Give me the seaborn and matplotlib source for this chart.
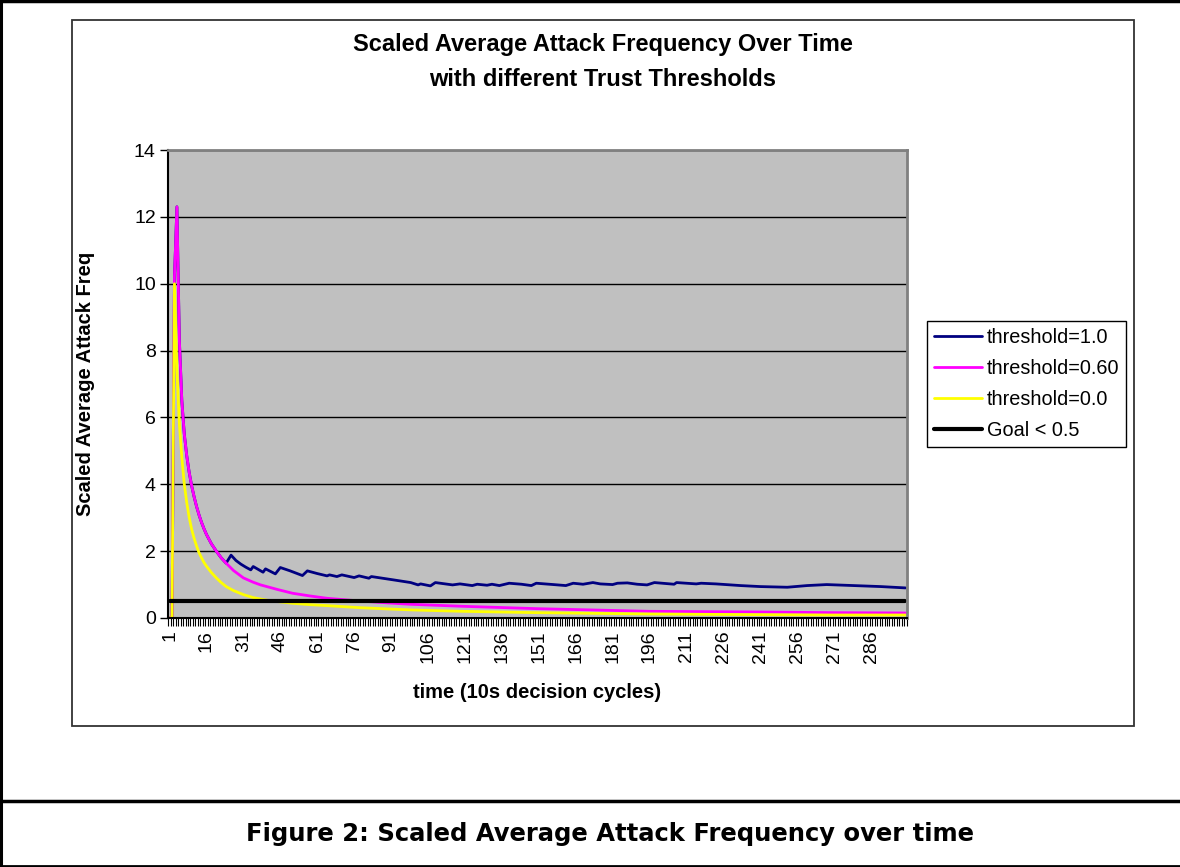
import pandas as pd
import seaborn as sns
import matplotlib.pyplot as plt
from matplotlib.lines import Line2D
from matplotlib.patches import Rectangle

# values (time index -> scaled avg attack freq)
t_thr10 = [1, 2, 3, 4, 5, 6, 7, 8, 9, 10, 11, 12, 13, 14, 15, 16, 18, 20, 22, 24,
           26, 28, 30, 32, 34, 35, 39, 40, 44, 46, 50, 55, 57, 61, 65, 66, 69, 71,
           76, 78, 82, 83, 92, 99, 102, 103, 107, 109, 116, 119, 124, 126, 130, 132,
           135, 139, 144, 148, 150, 157, 162, 165, 169, 173, 176, 181, 183, 187, 191,
           195, 198, 206, 207, 215, 217, 223, 233, 241, 252, 260, 268, 279, 290, 300]
v_thr10 = [0, 0, 10.2, 12.3, 8.3, 6.5, 5.5, 4.85, 4.35, 3.95, 3.62, 3.33, 3.08, 2.86,
           2.67, 2.5, 2.22, 2.0, 1.8, 1.64, 1.88, 1.72, 1.61, 1.52, 1.44, 1.54, 1.37,
           1.47, 1.32, 1.51, 1.41, 1.27, 1.41, 1.33, 1.26, 1.29, 1.24, 1.29, 1.21,
           1.26, 1.19, 1.24, 1.14, 1.06, 0.99, 1.02, 0.96, 1.06, 0.99, 1.02, 0.97,
           1.01, 0.98, 1.01, 0.97, 1.04, 1.01, 0.97, 1.04, 1.00, 0.97, 1.04, 1.01,
           1.06, 1.02, 1.00, 1.04, 1.05, 1.01, 0.99, 1.06, 1.01, 1.06, 1.02, 1.04,
           1.02, 0.97, 0.94, 0.92, 0.97, 1.00, 0.97, 0.94, 0.90]

t_thr06 = [1, 2, 3, 4, 5, 6, 7, 8, 9, 10, 11, 12, 13, 14, 15, 16, 18, 20, 22, 24, 27,
           31, 35, 38, 45, 51, 58, 65, 78, 90, 99, 120, 150, 196, 240, 270, 300]
v_thr06 = [0, 0, 10.2, 12.3, 8.3, 6.5, 5.5, 4.85, 4.35, 3.95, 3.62, 3.33, 3.08, 2.86,
           2.67, 2.5, 2.22, 2.0, 1.8, 1.64, 1.42, 1.2, 1.07, 0.99, 0.85, 0.74, 0.66,
           0.59, 0.51, 0.45, 0.41, 0.35, 0.28, 0.2, 0.18, 0.16, 0.15]

t_thr00 = [1, 2, 3, 4, 5, 6, 7, 8, 9, 10, 11, 12, 13, 14, 15, 16, 18, 20, 22, 24, 27,
           31, 35, 40, 45, 51, 58, 65, 78, 90, 100, 120, 150, 196, 240, 270, 300]
v_thr00 = [0, 0, 10.0, 7.4, 5.8, 4.8, 4.0, 3.45, 3.0, 2.65, 2.38, 2.15, 1.95, 1.8,
           1.66, 1.55, 1.36, 1.2, 1.06, 0.94, 0.82, 0.70, 0.61, 0.54, 0.49, 0.44,
           0.40, 0.37, 0.31, 0.27, 0.24, 0.2, 0.16, 0.12, 0.1, 0.09, 0.09]

t_goal = [1, 300]
v_goal = [0.5, 0.5]

n_cycles = 300
x_tick_labels = [1, 16, 31, 46, 61, 76, 91, 106, 121, 136, 151, 166, 181, 196,
                 211, 226, 241, 256, 271, 286]

series = [
    ("threshold=1.0", t_thr10, v_thr10, "#000080", 2.0),
    ("threshold=0.60", t_thr06, v_thr06, "#FF00FF", 2.0),
    ("threshold=0.0", t_thr00, v_thr00, "#FFFF00", 2.0),
    ("Goal < 0.5", t_goal, v_goal, "#000000", 3.0),
]

sns.set_theme(style="ticks")
plt.rcParams["font.family"] = ["Liberation Sans", "DejaVu Sans"]
plt.rcParams["text.color"] = "black"
plt.rcParams["axes.labelcolor"] = "black"
plt.rcParams["xtick.color"] = "black"
plt.rcParams["ytick.color"] = "black"

W, H = 1180, 867
fig = plt.figure(figsize=(W / 100, H / 100), dpi=100)


def fx(px):
    return px / W


def fy(py):
    return 1 - py / H


# page frame lines
for x0, y0, x1, y1, lw in [(0, 1, W, 1, 2.5), (1, 0, 1, H, 2.2),
                           (0, 801, W, 801, 2.5), (0, 866, W, 866, 2.0)]:
    fig.add_artist(Line2D([fx(x0), fx(x1)], [fy(y0), fy(y1)], color="black",
                          lw=lw, transform=fig.transFigure))

# chart frame
fig.add_artist(Rectangle((fx(72), fy(726)), fx(1134) - fx(72), fy(20) - fy(726),
                         fill=False, edgecolor="#333333", lw=1.3,
                         transform=fig.transFigure))

ax = fig.add_axes([fx(168.3), fy(618), fx(906.7) - fx(168.3), fy(150) - fy(618)])
ax.set_facecolor("#C0C0C0")

handles = []
for label, t, v, color, lw in series:
    df = pd.DataFrame({"time": t, "value": v})
    sns.lineplot(data=df, x="time", y="value", color=color, lw=lw, ax=ax,
                 estimator=None, sort=False)
    handles.append(Line2D([], [], color=color, lw=lw, label=label))

ax.set_xlim(0.5, n_cycles + 0.5)
ax.set_ylim(0, 14)
ax.set_yticks(range(0, 15, 2))
ax.yaxis.grid(True, color="black", lw=1)
ax.set_axisbelow(True)

ax.set_xticks(x_tick_labels)
ax.set_xticklabels([str(v) for v in x_tick_labels], rotation=90, fontsize=14)
ax.set_xticks([k + 0.5 for k in range(n_cycles + 1)], minor=True)
ax.tick_params(axis="x", which="major", length=0, pad=9)
ax.tick_params(axis="x", which="minor", length=6, width=0.8, color="black")
ax.tick_params(axis="y", labelsize=14, length=6, width=1, color="black", pad=3)

for s in ["left", "bottom"]:
    ax.spines[s].set_color("black")
    ax.spines[s].set_linewidth(1.5)
for s in ["top", "right"]:
    ax.spines[s].set_color("#808080")
    ax.spines[s].set_linewidth(2)

ax.set_xlabel("time (10s decision cycles)", fontsize=14.5, fontweight="bold",
              labelpad=14)
ax.set_ylabel("Scaled Average Attack Freq", fontsize=14.5, fontweight="bold",
              labelpad=28)

fig.legend(handles=handles, loc="upper left", bbox_to_anchor=(fx(927), fy(321)),
           frameon=True, fancybox=False, edgecolor="black", framealpha=1,
           fontsize=14.3, handlelength=2.4, handletextpad=0.25,
           labelspacing=0.6, borderpad=0.35, borderaxespad=0)

fig.text(fx(603), fy(45), "Scaled Average Attack Frequency Over Time", ha="center",
         va="center", fontsize=17, fontweight="bold")
fig.text(fx(603), fy(79), "with different Trust Thresholds", ha="center",
         va="center", fontsize=17, fontweight="bold")

fig.text(fx(610), fy(834), "Figure 2: Scaled Average Attack Frequency over time",
         ha="center", va="center", fontsize=17.5, fontweight="bold",
         family=["DejaVu Sans"])

fig.savefig("out.png", dpi=100)
